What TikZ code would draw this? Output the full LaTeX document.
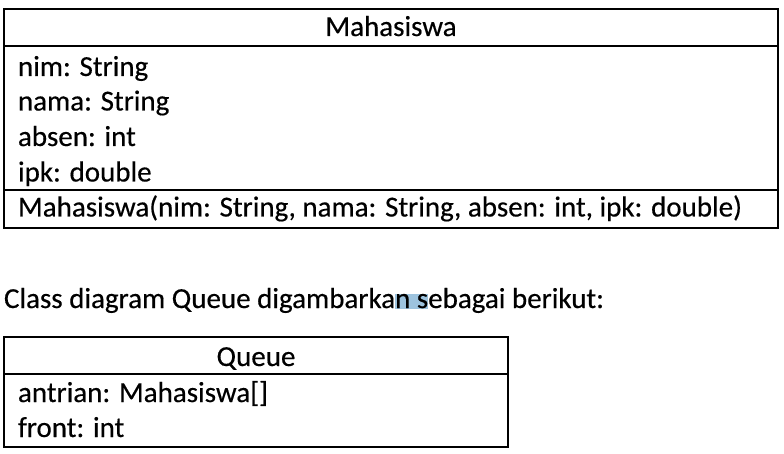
\documentclass[tikz,border=0pt]{standalone}
\usepackage{fontspec}
\setmainfont{Carlito}[UprightFeatures={FakeBold=0.4}]
\definecolor{hl}{RGB}{157,195,222}
\newcommand{\hlbox}[1]{{\setlength{\fboxsep}{0pt}\colorbox{hl}{\rule[-1pt]{0pt}{14pt}#1}}}
\begin{document}
\begin{tikzpicture}[x=1pt,y=-1pt,
  box/.style={draw=black,line width=2pt},
  txt/.style={inner sep=0pt,outer sep=0pt,font=\fontsize{29}{29}\selectfont},
  attr/.style={txt,anchor=base west},
  title/.style={txt,anchor=base}]
\useasboundingbox (0,0) rectangle (784,454);
% Mahasiswa class
\draw[box] (4,9) rectangle (778,228);
\draw[box] (4,46) -- (778,46);
\draw[box] (4,190) -- (778,190);
\node[title] (mt) at (391,36) {Mahasiswa};
\node[attr] (a1) at (18,76) {nim: String};
\node[attr] (a2) at (18,110.5) {nama: String};
\node[attr] (a3) at (18,146) {absen: int};
\node[attr] (a4) at (18,181.5) {ipk: double};
\node[attr] (m1) at (18,216.5) {Mahasiswa(nim: String, nama: String, absen: int, ipk: double)};
% caption with highlight
\node[attr] (cap) at (4,308) {Class diagram Queue digambarka\hlbox{n s}ebagai berikut:};
% Queue class
\draw[box] (4,337) rectangle (508,447);
\draw[box] (4,374) -- (508,374);
\node[title] (qt) at (256,366) {Queue};
\node[attr] (q1) at (18,402) {antrian: Mahasiswa[]};
\node[attr] (q2) at (18,437) {front: int};
\end{tikzpicture}
\end{document}
